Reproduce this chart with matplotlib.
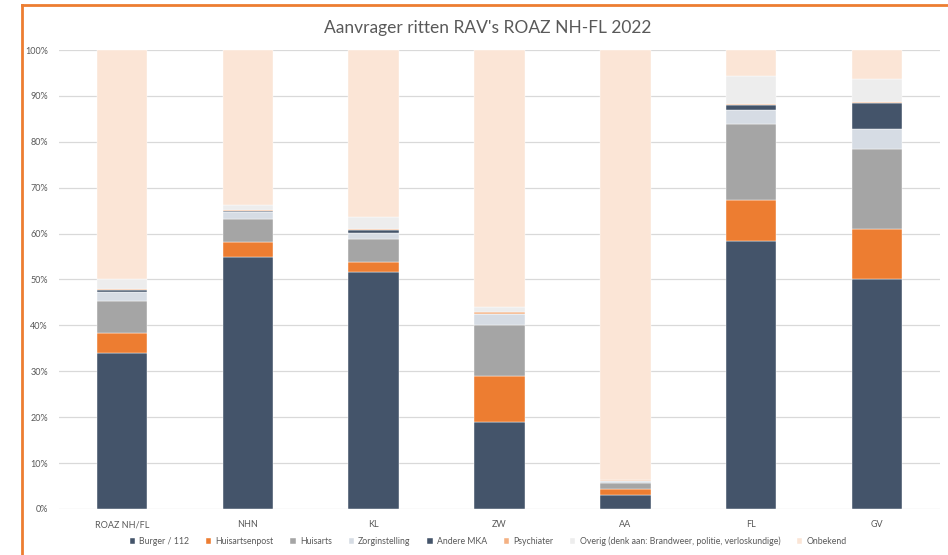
import matplotlib.pyplot as plt
from matplotlib.lines import Line2D
from matplotlib.ticker import PercentFormatter
import numpy as np

plt.rcParams['font.family'] = ['Lato', 'DejaVu Sans']

regios = ["ROAZ NH/FL", "NHN", "KL", "ZW", "AA", "FL", "GV"]

# aandeel per aanvrager (%), per regio
burger = [34.0, 54.9, 51.6, 19.0, 3.0, 58.3, 50.0]
huisartsenpost = [4.3, 3.3, 2.2, 10.0, 1.3, 9.0, 10.9]
huisarts = [7.1, 5.0, 5.0, 11.1, 1.4, 16.6, 17.6]
zorginstelling = [1.8, 1.6, 1.4, 2.3, 0.4, 3.0, 4.2]
andere_mka = [0.5, 0.1, 0.5, 0.1, 0.1, 1.1, 5.8]
psychiater = [0.2, 0.2, 0.3, 0.4, 0.1, 0.2, 0.2]
overig = [2.1, 1.1, 2.6, 1.2, 0.1, 6.2, 4.9]
onbekend = [50.0, 33.8, 36.4, 55.9, 93.6, 5.6, 6.4]

series = [
    ("Burger / 112", burger, "#44546A"),
    ("Huisartsenpost", huisartsenpost, "#ED7D31"),
    ("Huisarts", huisarts, "#A5A5A5"),
    ("Zorginstelling", zorginstelling, "#D6DCE4"),
    ("Andere MKA", andere_mka, "#44546A"),
    ("Psychiater", psychiater, "#F4B183"),
    ("Overig (denk aan: Brandweer, politie, verloskundige)", overig, "#EDEDED"),
    ("Onbekend", onbekend, "#FBE5D6"),
]

fig = plt.figure(figsize=(9.48, 5.55), dpi=100)
ax = fig.add_axes([0.0622, 0.0829, 0.9294, 0.827])

x = np.arange(len(regios))
bottom = np.zeros(len(regios))
for naam, waarden, kleur in series:
    ax.bar(x, waarden, 0.4, bottom=bottom, color=kleur, label=naam,
           edgecolor="white", linewidth=0.3, zorder=2)
    bottom += np.array(waarden)

ax.set_xlim(-0.5, len(regios) - 0.5)
ax.set_ylim(0, 100)
ax.set_yticks(np.arange(0, 101, 10))
ax.yaxis.set_major_formatter(PercentFormatter(decimals=0))
ax.set_xticks(x)
ax.set_xticklabels(regios)
ax.tick_params(length=0, labelsize=6.5, labelcolor="#595959", pad=8)
ax.grid(axis="y", color="#D9D9D9", linewidth=0.9, zorder=0)
for s in ax.spines.values():
    s.set_visible(False)

fig.text(0.514, 0.949, "Aanvrager ritten RAV's ROAZ NH-FL 2022",
         ha="center", va="center", fontsize=12.5, color="#595959")

fig.legend(loc="center", bbox_to_anchor=(0.515, 0.025), ncol=8, frameon=False,
           fontsize=6.3, labelcolor="#595959", handlelength=0.6, handleheight=0.6,
           handletextpad=0.5, columnspacing=1.9)

# oranje kader linksboven
fig.add_artist(Line2D([0.0232, 1.0], [0.991, 0.991], color="#ED7D31", linewidth=2,
                      transform=fig.transFigure))
fig.add_artist(Line2D([0.0232, 0.0232], [0.0, 0.991], color="#ED7D31", linewidth=2,
                      transform=fig.transFigure))

fig.savefig("out.png", dpi=100)
